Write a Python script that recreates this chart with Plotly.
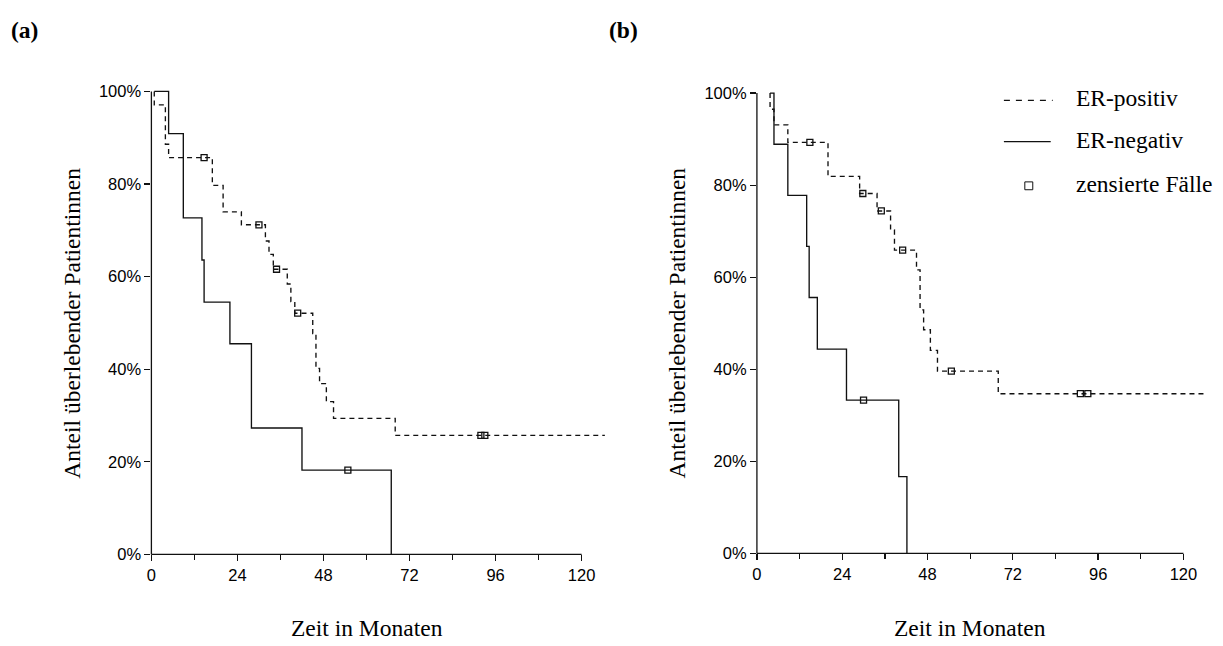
import plotly.graph_objects as go

W, H = 1223, 646

# ---------------- data ----------------
# Panel (a)
a_pos_start = 0.8
a_pos_drop_t = [0.8, 3.9, 4.8, 17.0, 20.0, 25.1, 31.8, 32.8, 34.0, 37.9, 38.9, 40.0,
                45.0, 45.9, 46.9, 48.8, 50.8, 68.0]
a_pos_drop_s = [97.1, 88.6, 85.7, 79.7, 74.0, 71.2, 67.7, 64.8, 61.6, 58.4, 54.6, 52.1,
                47.7, 40.2, 36.9, 33.0, 29.4, 25.7]
a_pos_cens = [14.7, 30.0, 34.9, 40.8, 91.9, 93.0]
a_pos_end = 126.5

a_neg_start = 0.8
a_neg_drop_t = [4.8, 8.9, 14.1, 14.7, 21.9, 27.9, 42.0, 66.9]
a_neg_drop_s = [90.9, 72.7, 63.6, 54.5, 45.5, 27.3, 18.2, 0.0]
a_neg_cens = [54.8]

# Panel (b)
b_pos_start = 3.7
b_pos_drop_t = [3.7, 4.8, 8.7, 20.0, 28.9, 33.8, 37.6, 38.7, 44.9, 45.9, 46.9, 48.8,
                50.8, 67.9]
b_pos_drop_s = [96.5, 93.1, 89.3, 81.9, 78.2, 74.4, 70.3, 65.9, 61.6, 52.9, 48.6, 44.1,
                39.6, 34.7]
b_pos_cens = [14.9, 29.8, 35.0, 41.0, 54.7, 91.0, 93.1]
b_pos_end = 126.0

b_neg_start = 3.7
b_neg_drop_t = [4.8, 8.7, 14.0, 14.7, 17.0, 25.2, 39.9, 42.2]
b_neg_drop_s = [88.9, 77.8, 66.7, 55.6, 44.4, 33.3, 16.7, 0.0]
b_neg_cens = [30.0]

x_tickvals = [0, 24, 48, 72, 96, 120]
x_minor = [12, 36, 60, 84, 108]
y_tickvals = [0, 20, 40, 60, 80, 100]
y_ticktext = ["0%", "20%", "40%", "60%", "80%", "100%"]

legend_labels = ["ER-positiv", "ER-negativ", "zensierte Fälle"]
x_title = "Zeit in Monaten"
y_title = "Anteil überlebender Patientinnen"

# ---------------- geometry (pixels) ----------------
XR = [0, 126.5]
YR = [0, 101.5]
XMAX_AXIS = 120
YMAX_AXIS = 100
A = dict(x0=147, ppm=3.6, y0=562, ppp=4.71)
B = dict(x0=755, ppm=3.569, y0=561, ppp=4.683)

SERIF = "Liberation Serif, Times New Roman, serif"
SANS = "Liberation Sans, Arial, sans-serif"
LINE_COL = "#111111"
TXT = 23.5
TICK = 16.5


def steps(start, drop_t, drop_s, end=None):
    x = [start] + list(drop_t)
    y = [100.0] + list(drop_s)
    if end is not None:
        x.append(end)
        y.append(drop_s[-1])
    return x, y


def surv_at(t, drop_t, drop_s):
    s = 100.0
    for dt, ds in zip(drop_t, drop_s):
        if dt <= t:
            s = ds
    return s


fig = go.Figure()

panels = [
    ("x", "y", (a_pos_start, a_pos_drop_t, a_pos_drop_s, a_pos_cens, a_pos_end),
     (a_neg_start, a_neg_drop_t, a_neg_drop_s, a_neg_cens, None)),
    ("x2", "y2", (b_pos_start, b_pos_drop_t, b_pos_drop_s, b_pos_cens, b_pos_end),
     (b_neg_start, b_neg_drop_t, b_neg_drop_s, b_neg_cens, None)),
]

for xa, ya, pos, neg in panels:
    for (st, dt, ds, cens, end), dash, name in [(pos, "5px,4px", legend_labels[0]),
                                                 (neg, "solid", legend_labels[1])]:
        xs, ys = steps(st, dt, ds, end)
        fig.add_trace(go.Scatter(
            x=xs, y=ys, mode="lines", line_shape="hv", name=name, showlegend=False,
            line=dict(color=LINE_COL, width=1.35, dash=dash),
            xaxis=xa, yaxis=ya, hoverinfo="skip"))
        fig.add_trace(go.Scatter(
            x=cens, y=[surv_at(t, dt, ds) for t in cens], mode="markers",
            name=legend_labels[2], showlegend=False,
            marker=dict(symbol="square-open", size=6, color=LINE_COL,
                        line=dict(width=1.3, color=LINE_COL)),
            xaxis=xa, yaxis=ya, hoverinfo="skip"))


def xaxis_cfg(g):
    return dict(
        domain=[g["x0"] / W, (g["x0"] + g["ppm"] * (XR[1] - XR[0])) / W],
        range=XR, showgrid=False, zeroline=False, showline=False,
        tickvals=x_tickvals, ticktext=[str(v) for v in x_tickvals],
        ticks="outside", ticklen=6, tickwidth=1.3, tickcolor=LINE_COL,
        minor=dict(tickvals=x_minor, ticks="outside", ticklen=5, tickwidth=1.3,
                   tickcolor=LINE_COL, showgrid=False),
        tickfont=dict(family=SANS, size=TICK, color="black"), fixedrange=True)


def yaxis_cfg(g, anchor):
    top_px = g["y0"] - g["ppp"] * (YR[1] - YR[0])
    return dict(
        domain=[(H - g["y0"]) / H, (H - top_px) / H], anchor=anchor,
        range=YR, showgrid=False, zeroline=False, showline=False,
        tickvals=y_tickvals, ticktext=y_ticktext,
        ticks="outside", ticklen=6, tickwidth=1.3, tickcolor=LINE_COL,
        tickfont=dict(family=SANS, size=TICK, color="black"), fixedrange=True)


fig.update_layout(
    width=W, height=H, margin=dict(l=0, r=0, t=0, b=0),
    paper_bgcolor="white", plot_bgcolor="white", showlegend=False,
    xaxis=dict(xaxis_cfg(A), anchor="y"),
    yaxis=yaxis_cfg(A, "x"),
    xaxis2=dict(xaxis_cfg(B), anchor="y2"),
    yaxis2=yaxis_cfg(B, "x2"),
)

shapes = []
annotations = []
for g, lab in [(A, "(a)"), (B, "(b)")]:
    # axis lines (stop at 120 months / 100 %)
    xend = g["x0"] + g["ppm"] * XMAX_AXIS
    ytop = g["y0"] - g["ppp"] * YMAX_AXIS
    shapes.append(dict(type="line", xref="paper", yref="paper",
                       x0=g["x0"] / W, x1=xend / W, y0=1 - g["y0"] / H, y1=1 - g["y0"] / H,
                       line=dict(color=LINE_COL, width=1.3)))
    shapes.append(dict(type="line", xref="paper", yref="paper",
                       x0=g["x0"] / W, x1=g["x0"] / W, y0=1 - g["y0"] / H, y1=1 - ytop / H,
                       line=dict(color=LINE_COL, width=1.3)))
    # axis titles
    annotations.append(dict(text=x_title, xref="paper", yref="paper",
                            x=(g["x0"] + xend) / 2 / W, y=1 - 637 / H,
                            showarrow=False, xanchor="center", yanchor="middle",
                            font=dict(family=SERIF, size=TXT, color="black")))
    annotations.append(dict(text=y_title, xref="paper", yref="paper",
                            x=(g["x0"] - 80) / W, y=1 - (g["y0"] + ytop) / 2 / H,
                            textangle=-90, showarrow=False, xanchor="center",
                            yanchor="middle",
                            font=dict(family=SERIF, size=TXT, color="black")))

annotations.append(dict(text="<b>(a)</b>", xref="paper", yref="paper", x=4 / W, y=1 - 28 / H,
                        showarrow=False, xanchor="left", yanchor="middle",
                        font=dict(family=SERIF, size=TXT, color="black")))
annotations.append(dict(text="<b>(b)</b>", xref="paper", yref="paper", x=604 / W, y=1 - 28 / H,
                        showarrow=False, xanchor="left", yanchor="middle",
                        font=dict(family=SERIF, size=TXT, color="black")))

# legend (top right of panel b)
leg_rows = [100, 142, 187]
shapes.append(dict(type="line", xref="paper", yref="paper", x0=1003 / W, x1=1052 / W,
                   y0=1 - leg_rows[0] / H, y1=1 - leg_rows[0] / H,
                   line=dict(color=LINE_COL, width=1.3, dash="6px,6px")))
shapes.append(dict(type="line", xref="paper", yref="paper", x0=1003 / W, x1=1050 / W,
                   y0=1 - leg_rows[1] / H, y1=1 - leg_rows[1] / H,
                   line=dict(color=LINE_COL, width=1.3)))
shapes.append(dict(type="rect", xref="paper", yref="paper", x0=1024 / W, x1=1032 / W,
                   y0=1 - (leg_rows[2] - 4) / H, y1=1 - (leg_rows[2] + 4) / H,
                   line=dict(color=LINE_COL, width=1)))
for row, lab in zip(leg_rows, legend_labels):
    annotations.append(dict(text=lab, xref="paper", yref="paper", x=1073 / W, y=1 - (row - 2) / H,
                            showarrow=False, xanchor="left", yanchor="middle",
                            font=dict(family=SERIF, size=TXT, color="black")))

fig.update_layout(shapes=shapes, annotations=annotations)
fig.write_html("out.html",
               config={"displayModeBar": False, "staticPlot": True},
               post_script="document.body.style.margin='0px';document.body.style.overflow='hidden';")
